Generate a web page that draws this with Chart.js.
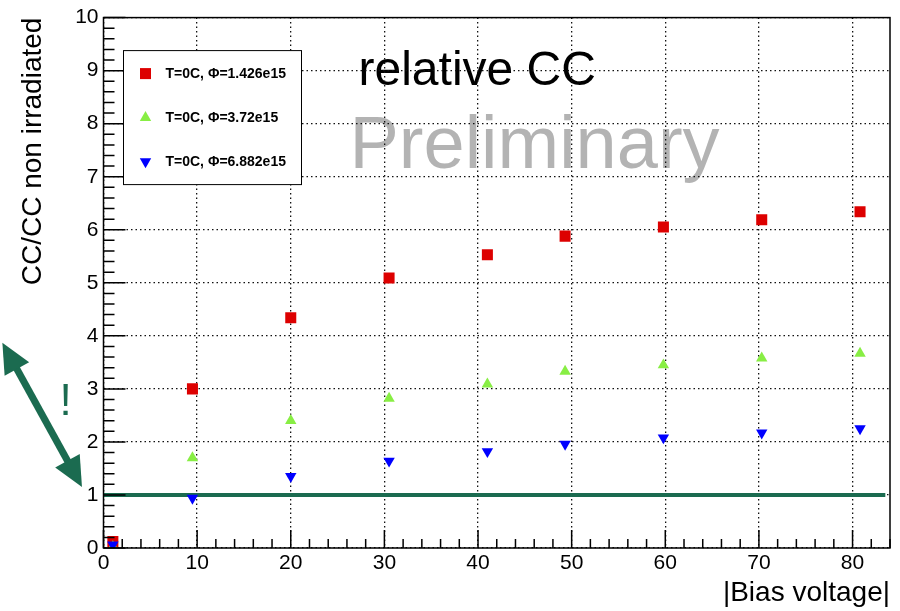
<!DOCTYPE html>
<html>
<head>
<meta charset="utf-8">
<title>relative CC</title>
<script src="https://cdn.jsdelivr.net/npm/chart.js@4.4.0/dist/chart.umd.min.js"></script>
<style>
  body { margin: 0; background: #fff; }
  canvas { display: block; }
</style>
</head>
<body>
<canvas id="ccChart" width="900" height="611"></canvas>
<script>
// values
const biasVoltage = [1, 9.5, 20, 30.5, 41, 49.3, 59.8, 70.3, 80.8];
const ccPhi1426 = [0.12, 3.0, 4.34, 5.09, 5.53, 5.88, 6.05, 6.19, 6.34];
const ccPhi372 = [0.02, 1.70, 2.40, 2.82, 3.09, 3.33, 3.45, 3.58, 3.67];
const ccPhi6882 = [0.06, 0.94, 1.35, 1.64, 1.82, 1.96, 2.08, 2.17, 2.25];
const seriesLabels = ['T=0C, \u03A6=1.426e15', 'T=0C, \u03A6=3.72e15', 'T=0C, \u03A6=6.882e15'];
const xTickValues = [0, 10, 20, 30, 40, 50, 60, 70, 80];
const yTickValues = [0, 1, 2, 3, 4, 5, 6, 7, 8, 9, 10];
const refLineX = [0, 83.5];
const refLineLevel = 1;

const FONT = '"Liberation Sans", Arial, Helvetica, sans-serif';
const GREEN = '#1b6b50';

function toPoints(xs, ys) {
    return xs.map((x, i) => ({ x: x, y: ys[i] }));
}

// ROOT-like decorations: frame, inner ticks, legend box, arrow, texts
const rootStyle = {
    id: 'rootStyle',
    beforeDraw(chart) {
        const { ctx, chartArea: a } = chart;
        ctx.save();
        ctx.fillStyle = '#fff';
        ctx.fillRect(0, 0, chart.width, chart.height);
        ctx.textAlign = 'left';
        ctx.textBaseline = 'alphabetic';
        ctx.fillStyle = '#000';
        ctx.font = '48px ' + FONT;
        ctx.fillText('relative CC', a.left + 255, a.top + 67);
        ctx.fillStyle = '#b3b3b3';
        ctx.font = '74px ' + FONT;
        ctx.fillText('Preliminary', a.left + 246, a.top + 150);
        ctx.restore();
    },
    afterDraw(chart) {
        const { ctx, chartArea: a } = chart;
        const xs = chart.scales.x, ys = chart.scales.y;
        ctx.save();

        // frame
        ctx.strokeStyle = '#000';
        ctx.lineWidth = 1.5;
        ctx.strokeRect(a.left, a.top, a.right - a.left, a.bottom - a.top);

        // inner ticks
        ctx.beginPath();
        for (let i = 0; i * 2 <= xs.max; i++) {
            const px = xs.getPixelForValue(i * 2);
            const len = i % 5 === 0 ? 18 : 9;
            ctx.moveTo(px, a.bottom);
            ctx.lineTo(px, a.bottom - len);
        }
        for (let i = 0; i <= ys.max * 5; i++) {
            const py = ys.getPixelForValue(i / 5);
            const len = i % 5 === 0 ? 22 : 11;
            ctx.moveTo(a.left, py);
            ctx.lineTo(a.left + len, py);
        }
        ctx.stroke();

        // legend
        const lx = a.left + 20, ly = a.top + 33, lw = 178, lh = 134;
        ctx.fillStyle = '#fff';
        ctx.fillRect(lx, ly, lw, lh);
        ctx.lineWidth = 1;
        ctx.strokeRect(lx, ly, lw, lh);
        ctx.font = 'bold 14px ' + FONT;
        ctx.textBaseline = 'middle';
        ctx.textAlign = 'left';
        chart.data.datasets.forEach((ds, i) => {
            if (!ds.label) return;
            const cy = ly + 23 + i * 44;
            ctx.fillStyle = ds.backgroundColor;
            Chart.helpers.drawPoint(ctx, {
                pointStyle: ds.pointStyle,
                rotation: ds.pointRotation || 0,
                radius: ds.pointRadius,
                borderWidth: 0
            }, lx + 22, cy);
            ctx.fillStyle = '#000';
            ctx.fillText(ds.label, lx + 42, cy + 1);
        });

        // double arrow pointing at the ratio = 1 level
        const x1 = xs.getPixelForValue(-10.8), y1 = ys.getPixelForValue(3.87);
        const x2 = xs.getPixelForValue(-2.3), y2 = ys.getPixelForValue(1.15);
        const ang = Math.atan2(y2 - y1, x2 - x1);
        const headLen = 30, headHalf = 14;
        ctx.strokeStyle = GREEN;
        ctx.fillStyle = GREEN;
        ctx.lineWidth = 7;
        ctx.beginPath();
        ctx.moveTo(x1 + Math.cos(ang) * headLen * 0.8, y1 + Math.sin(ang) * headLen * 0.8);
        ctx.lineTo(x2 - Math.cos(ang) * headLen * 0.8, y2 - Math.sin(ang) * headLen * 0.8);
        ctx.stroke();
        [[x1, y1, ang + Math.PI], [x2, y2, ang]].forEach(([tx, ty, d]) => {
            const bx = tx - Math.cos(d) * headLen, by = ty - Math.sin(d) * headLen;
            ctx.beginPath();
            ctx.moveTo(tx, ty);
            ctx.lineTo(bx + Math.sin(d) * headHalf, by - Math.cos(d) * headHalf);
            ctx.lineTo(bx - Math.sin(d) * headHalf, by + Math.cos(d) * headHalf);
            ctx.closePath();
            ctx.fill();
        });
        ctx.font = '44px ' + FONT;
        ctx.textAlign = 'center';
        ctx.textBaseline = 'alphabetic';
        ctx.fillText('!', a.left - 38, a.bottom - 133);

        ctx.restore();
    }
};

const ctx = document.getElementById('ccChart').getContext('2d');
const ccChart = new Chart(ctx, {
    type: 'scatter',
    data: {
        datasets: [
            {
                label: seriesLabels[0],
                data: toPoints(biasVoltage, ccPhi1426),
                pointStyle: 'rect',
                pointRadius: 7.8,
                backgroundColor: '#dd0000',
                borderColor: '#dd0000',
                borderWidth: 0,
                order: 3
            },
            {
                label: seriesLabels[1],
                data: toPoints(biasVoltage, ccPhi372),
                pointStyle: 'triangle',
                pointRadius: 6.6,
                backgroundColor: '#88ee44',
                borderColor: '#88ee44',
                borderWidth: 0,
                order: 2
            },
            {
                label: seriesLabels[2],
                data: toPoints(biasVoltage, ccPhi6882),
                pointStyle: 'triangle',
                pointRotation: 180,
                pointRadius: 6.6,
                backgroundColor: '#0000ff',
                borderColor: '#0000ff',
                borderWidth: 0,
                order: 1
            },
            {
                label: '',
                data: refLineX.map(x => ({ x: x, y: refLineLevel })),
                showLine: true,
                pointRadius: 0,
                borderColor: GREEN,
                borderWidth: 4,
                order: 10
            }
        ]
    },
    options: {
        responsive: false,
        animation: false,
        devicePixelRatio: 1,
        layout: { padding: { left: 0, right: 10, top: 15, bottom: 0 } },
        plugins: {
            legend: { display: false },
            tooltip: { enabled: false }
        },
        scales: {
            x: {
                type: 'linear',
                min: 0,
                max: 84,
                afterBuildTicks: s => { s.ticks = xTickValues.map(v => ({ value: v })); },
                afterFit: s => { s.height = 63; },
                ticks: { color: '#000', font: { family: FONT, size: 21 }, padding: 3, autoSkip: false, maxRotation: 0 },
                grid: { color: '#111', lineWidth: 1.3, drawTicks: false },
                border: { display: false, dash: [1.5, 3] },
                title: {
                    display: true,
                    text: '|Bias voltage|',
                    align: 'end',
                    color: '#000',
                    font: { family: FONT, size: 28 },
                    padding: { top: 0, bottom: 1 }
                }
            },
            y: {
                type: 'linear',
                min: 0,
                max: 10,
                afterBuildTicks: s => { s.ticks = yTickValues.map(v => ({ value: v })); },
                afterFit: s => { s.width = 103.5; },
                ticks: { color: '#000', font: { family: FONT, size: 21 }, padding: 5, autoSkip: false },
                grid: { color: '#111', lineWidth: 1.3, drawTicks: false },
                border: { display: false, dash: [1.5, 3] },
                title: {
                    display: true,
                    text: 'CC/CC non irradiated',
                    align: 'end',
                    color: '#000',
                    font: { family: FONT, size: 28 },
                    padding: { top: 16, bottom: 0 }
                }
            }
        }
    },
    plugins: [rootStyle]
});
</script>
</body>
</html>
